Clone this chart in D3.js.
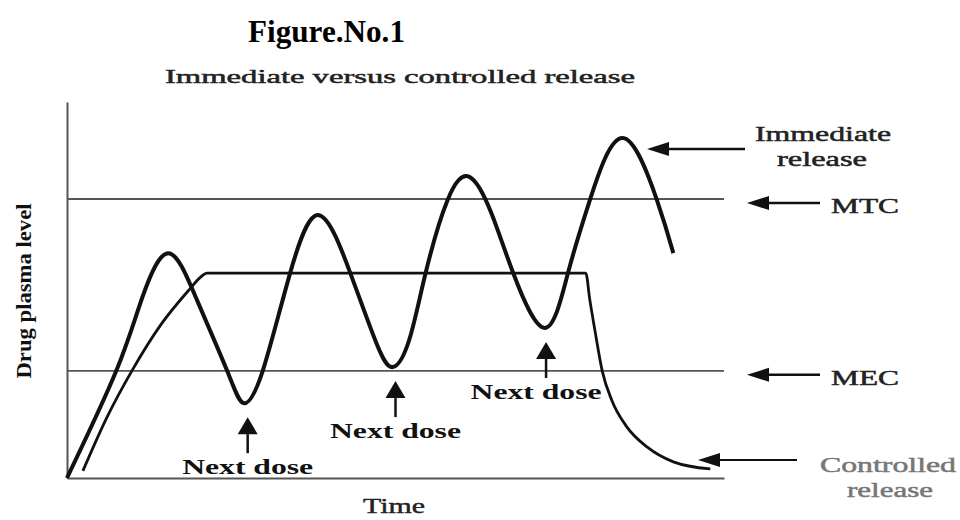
<!DOCTYPE html>
<html>
<head>
<meta charset="utf-8">
<script src="https://cdn.jsdelivr.net/npm/d3@7"></script>
<style>
  body { margin: 0; background: #fff; }
  svg text { font-family: "Liberation Serif", "Times New Roman", serif; }
</style>
</head>
<body>
<svg id="chart" width="960" height="520"></svg>
<script>
// immediate release: time (h) / plasma level (% of axis)
var immediateTime  = [0, 1.8, 2.75, 3.7, 4.75, 5.85, 6.45, 7.15, 8.15, 9.2, 10.35, 11.3, 11.9, 12.5, 13.1, 13.9, 14.7, 15.5, 16.3, 17.45, 18.3, 19.1, 20.3, 21.55, 22.15];
var immediateLevel = [0, 28.5, 48, 59.8, 47.3, 28.5, 19.9, 28.5, 54.5, 69.9, 54.5, 35.9, 29.5, 36.7, 54.5, 73.9, 80.1, 70.5, 54.5, 39.9, 54.5, 73.9, 90.4, 73.9, 59.8];

// controlled release
var controlledTime  = [0.58, 1.45, 2.37, 3.43, 4.49, 4.86, 5.11, 18.95, 19.1, 19.3, 19.55, 19.9, 20.45, 21.2, 22.15, 23.5];
var controlledLevel = [1.9, 16, 28.5, 40.8, 50.3, 53.3, 54.5, 54.5, 47.3, 38.6, 28.5, 20.7, 13.6, 8.2, 4.3, 2.4];

// reference levels
var refNames  = ["MTC", "MEC"];
var refLevels = [74.2, 28.5];

// next dose markers (time, trough level)
var doseTimes  = [6.6, 12.0, 17.5];
var doseLevels = [19.9, 29.5, 39.9];
var doseLabel  = "Next dose";

var svg = d3.select("#chart");
var margin = { top: 102, right: 236, bottom: 42, left: 67 },
  width = 960 - margin.left - margin.right,
  height = 520 - margin.top - margin.bottom;

var x = d3.scaleLinear().domain([0, 24]).range([0, width]);
var y = d3.scaleLinear().domain([0, 100]).range([height, 0]);

var g = svg.append("g")
  .attr("transform", "translate(" + margin.left + "," + margin.top + ")");

// axes, no ticks
g.append("g").call(d3.axisLeft(y).tickValues([]).tickSizeOuter(0));
g.append("g").attr("transform", "translate(0," + height + ")")
  .call(d3.axisBottom(x).tickValues([]).tickSizeOuter(0));
g.selectAll(".domain").attr("stroke", "#555").attr("stroke-width", 2);

// MTC / MEC lines
g.selectAll(".ref")
  .data(refLevels)
  .enter().append("line")
  .attr("class", "ref")
  .attr("x1", 0).attr("x2", x(24))
  .attr("y1", function (d) { return y(d); })
  .attr("y2", function (d) { return y(d); })
  .attr("stroke", "#555")
  .attr("stroke-width", 1.8);

var lineSmooth = d3.line()
  .x(function (d) { return x(d[0]); })
  .y(function (d) { return y(d[1]); })
  .curve(d3.curveNatural);

var lineFlat = d3.line()
  .x(function (d) { return x(d[0]); })
  .y(function (d) { return y(d[1]); })
  .curve(d3.curveMonotoneX);

g.append("path")
  .datum(d3.zip(controlledTime, controlledLevel))
  .attr("d", lineFlat)
  .attr("fill", "none")
  .attr("stroke", "#111")
  .attr("stroke-width", 2.8);

g.append("path")
  .datum(d3.zip(immediateTime, immediateLevel))
  .attr("d", lineSmooth)
  .attr("fill", "none")
  .attr("stroke", "#111")
  .attr("stroke-width", 4);

// arrow helper: shaft + filled head at (x2,y2)
function arrow(x1, y1, x2, y2, len, half, sw) {
  var a = Math.atan2(y2 - y1, x2 - x1);
  var bx = x2 - len * Math.cos(a), by = y2 - len * Math.sin(a);
  svg.append("line")
    .attr("x1", x1).attr("y1", y1).attr("x2", bx).attr("y2", by)
    .attr("stroke", "#111").attr("stroke-width", sw);
  var px = -Math.sin(a) * half, py = Math.cos(a) * half;
  svg.append("path")
    .attr("d", "M" + x2 + "," + y2 + "L" + (bx + px) + "," + (by + py) + "L" + (bx - px) + "," + (by - py) + "Z")
    .attr("fill", "#111");
}

// next dose arrows + labels
var labelDx = [0, 0, -10];
doseTimes.forEach(function (t, i) {
  var ax = margin.left + x(t);
  var tip = margin.top + y(doseLevels[i]) + 14;
  arrow(ax, tip + 36, ax, tip, 17, 10, 2.5);
  svg.append("text")
    .attr("x", ax + labelDx[i])
    .attr("y", tip + 57)
    .attr("text-anchor", "middle")
    .attr("font-size", 21)
    .attr("font-weight", "bold")
    .attr("textLength", 131)
    .attr("lengthAdjust", "spacingAndGlyphs")
    .attr("fill", "#111")
    .text(doseLabel);
});

// right-hand labels
function label(txt, cx, by, len, fill) {
  svg.append("text")
    .attr("x", cx).attr("y", by)
    .attr("text-anchor", "middle")
    .attr("font-size", 21)
    .attr("textLength", len)
    .attr("lengthAdjust", "spacingAndGlyphs")
    .attr("fill", fill)
    .attr("stroke", fill)
    .attr("stroke-width", 0.5)
    .text(txt);
}
arrow(745, 149, 647, 149, 22, 7, 2.5);
label("Immediate", 823, 141, 136, "#222");
label("release", 822, 166, 90, "#222");

refLevels.forEach(function (v, i) {
  var ry = margin.top + y(v) + 4;
  arrow(820, ry, 747, ry, 22, 7, 2.5);
  label(refNames[i], 865, ry + 10, 68, "#222");
});

arrow(797, 460, 698, 460, 22, 7, 2.2);
label("Controlled", 888, 472, 136, "#777");
label("release", 890, 497, 86, "#777");

// titles
svg.append("text")
  .attr("x", 248).attr("y", 42)
  .attr("font-size", 32).attr("font-weight", "bold")
  .attr("textLength", 157).attr("lengthAdjust", "spacingAndGlyphs")
  .attr("fill", "#000")
  .text("Figure.No.1");

svg.append("text")
  .attr("x", 165).attr("y", 83)
  .attr("font-size", 19)
  .attr("textLength", 470).attr("lengthAdjust", "spacingAndGlyphs")
  .attr("fill", "#222")
  .attr("stroke", "#222").attr("stroke-width", 0.5)
  .text("Immediate versus controlled release");

svg.append("text")
  .attr("transform", "translate(31,291) rotate(-90)")
  .attr("text-anchor", "middle")
  .attr("font-size", 21).attr("font-weight", "bold")
  .attr("textLength", 175).attr("lengthAdjust", "spacingAndGlyphs")
  .attr("fill", "#111")
  .text("Drug plasma level");

svg.append("text")
  .attr("x", 394).attr("y", 513)
  .attr("text-anchor", "middle")
  .attr("font-size", 20)
  .attr("textLength", 62).attr("lengthAdjust", "spacingAndGlyphs")
  .attr("fill", "#222")
  .attr("stroke", "#222").attr("stroke-width", 0.4)
  .text("Time");
</script>
</body>
</html>
